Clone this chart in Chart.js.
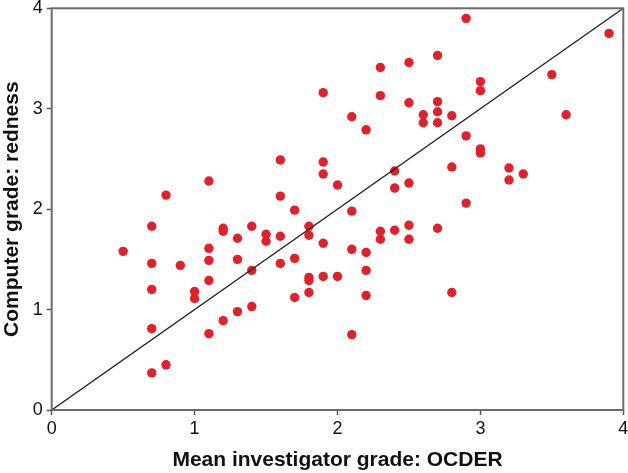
<!DOCTYPE html>
<html>
<head>
<meta charset="utf-8">
<script src="https://cdn.jsdelivr.net/npm/chart.js@4.4.1/dist/chart.umd.min.js"></script>
<style>
  html, body { margin: 0; padding: 0; background: #fff; }
  #wrap { width: 628px; height: 473px; }
</style>
</head>
<body>
<div id="wrap"><canvas id="chart" width="628" height="473"></canvas></div>
<script>
// Mean investigator grade (x) vs computer grade (y)
const investigatorGrade = [
  1.90, 1.60, 1.90, 1.90, 2.00, 1.10, 0.80, 1.60, 1.70, 2.90,
  3.90, 2.30, 2.50, 2.70, 3.50, 3.00, 3.00, 2.30, 2.50, 2.70,
  2.70, 2.60, 2.60, 2.70, 2.80, 3.60, 2.10, 2.20, 2.90, 3.00,
  3.00, 2.80, 3.20, 3.20, 3.30, 2.40, 2.40, 2.50, 2.90, 2.10,
  0.70, 1.20, 1.20, 1.40, 1.80, 1.80, 1.50, 1.50, 1.60, 1.30,
  1.90, 0.50, 1.10, 1.10, 0.70, 0.90, 1.30, 1.60, 1.70, 1.40,
  1.80, 1.80, 1.90, 2.00, 0.70, 1.00, 1.00, 1.10, 1.70, 1.80,
  1.40, 1.30, 1.20, 1.10, 0.70, 0.80, 0.70, 2.30, 2.30, 2.40,
  2.50, 2.50, 2.70, 2.10, 2.20, 2.20, 2.20, 2.80, 2.10
];
const computerGrade = [
  3.16, 2.49, 2.47, 2.35, 2.24, 2.28, 2.14, 2.13, 1.99, 3.90,
  3.75, 3.41, 3.46, 3.53, 3.34, 3.27, 3.18, 3.13, 3.06, 3.07,
  2.97, 2.94, 2.86, 2.86, 2.93, 2.94, 2.92, 2.79, 2.73, 2.60,
  2.56, 2.42, 2.41, 2.29, 2.35, 2.38, 2.21, 2.26, 2.06, 1.98,
  1.83, 1.81, 1.78, 1.83, 1.83, 1.74, 1.75, 1.68, 1.73, 1.71,
  1.66, 1.58, 1.61, 1.49, 1.46, 1.44, 1.50, 1.46, 1.51, 1.39,
  1.32, 1.29, 1.33, 1.33, 1.20, 1.18, 1.11, 1.29, 1.12, 1.17,
  1.03, 0.98, 0.89, 0.76, 0.81, 0.45, 0.37, 1.78, 1.70, 1.79,
  1.84, 1.70, 1.81, 1.60, 1.57, 1.39, 1.14, 1.17, 0.75
];
const identityLine = [0, 4];
const tickValues = [0, 1, 2, 3, 4];

const points = investigatorGrade.map((x, i) => ({ x: x, y: computerGrade[i] }));
const diagonal = identityLine.map(v => ({ x: v, y: v }));

// draws the box round the plot area (top and right sides too)
const frame = {
  id: 'frame',
  afterDatasetsDraw(chart) {
    const { ctx, chartArea: a } = chart;
    ctx.save();
    ctx.strokeStyle = '#6b6b6b';
    ctx.lineWidth = 2;
    ctx.strokeRect(a.left, a.top, a.right - a.left, a.bottom - a.top);
    ctx.restore();
  }
};

const tickFont = { family: '"Liberation Sans", Arial, sans-serif', size: 18 };
const titleFont = { family: '"Liberation Sans", Arial, sans-serif', size: 21, weight: 'bold' };

new Chart(document.getElementById('chart'), {
  type: 'scatter',
  data: {
    datasets: [
      {
        type: 'line',
        data: diagonal,
        borderColor: '#1a1a1a',
        borderWidth: 1.3,
        pointRadius: 0,
        fill: false
      },
      {
        data: points,
        backgroundColor: '#e3202a',
        borderWidth: 0,
        pointRadius: 4.7,
        pointHoverRadius: 4.7
      }
    ]
  },
  plugins: [frame],
  options: {
    responsive: false,
    animation: false,
    layout: { padding: { top: 8.3, right: 4.7, left: 0, bottom: 0 } },
    plugins: { legend: { display: false }, tooltip: { enabled: false } },
    scales: {
      x: {
        type: 'linear',
        min: 0, max: 4,
        afterBuildTicks: s => { s.ticks = tickValues.map(v => ({ value: v })); },
        afterFit: s => { s.height = 63; s.paddingLeft = 0; s.paddingRight = 0; },
        grid: { drawOnChartArea: false, drawTicks: true, tickLength: 5, tickColor: '#555', tickWidth: 1.5 },
        border: { display: false },
        ticks: { color: '#111', font: tickFont, padding: 3, maxRotation: 0 },
        title: { display: true, text: 'Mean investigator grade: OCDER', color: '#111', font: titleFont, padding: { top: 0, bottom: 0 } }
      },
      y: {
        type: 'linear',
        min: 0, max: 4,
        afterBuildTicks: s => { s.ticks = tickValues.map(v => ({ value: v })); },
        afterFit: s => { s.width = 51.7; s.paddingTop = 0; s.paddingBottom = 0; },
        grid: { drawOnChartArea: false, drawTicks: true, tickLength: 5, tickColor: '#555', tickWidth: 1.5 },
        border: { display: false },
        ticks: { color: '#111', font: tickFont, padding: 4 },
        title: { display: true, text: 'Computer grade: redness', color: '#111', font: titleFont, padding: { top: 0, bottom: 0 } }
      }
    }
  }
});
</script>
</body>
</html>
